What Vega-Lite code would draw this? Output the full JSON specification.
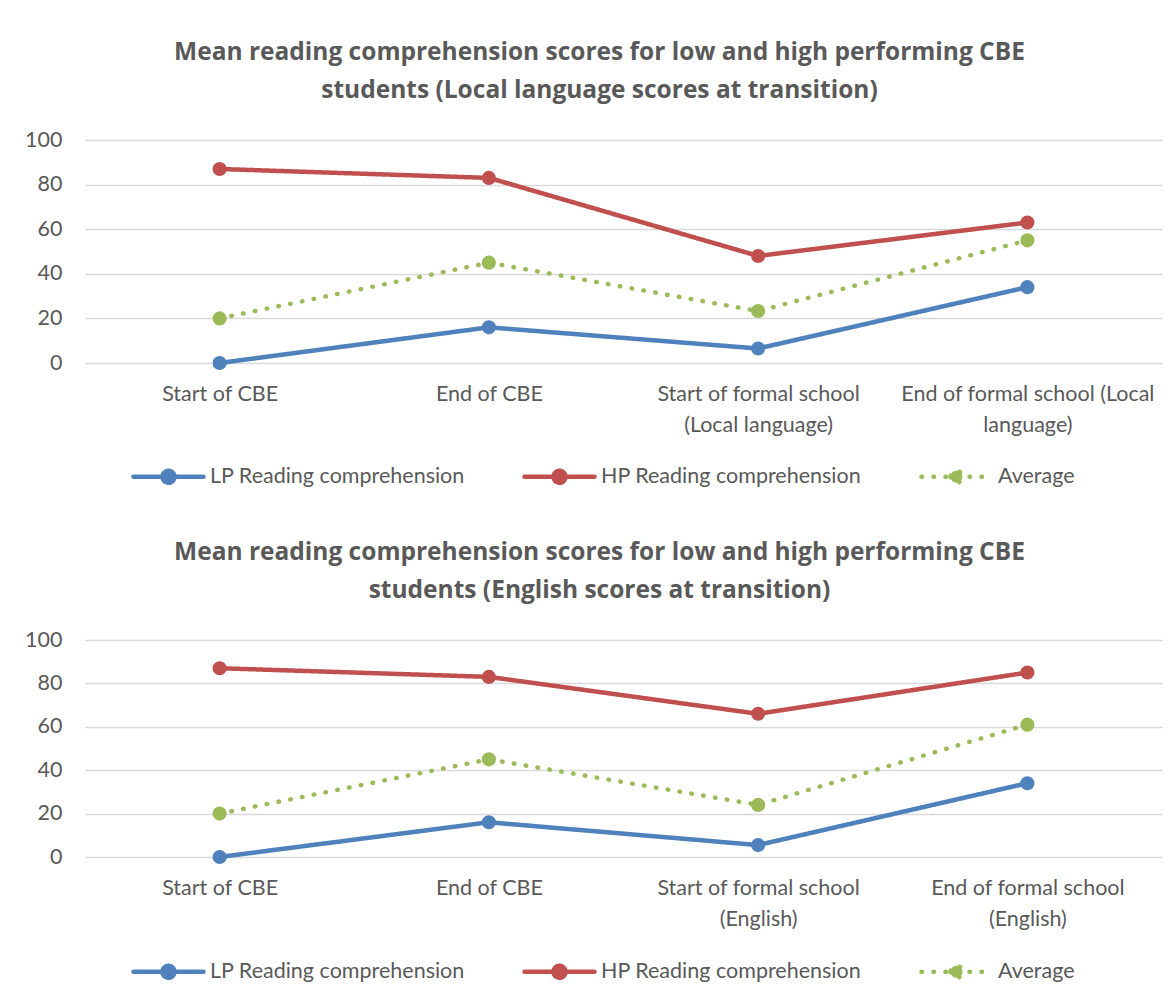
{
  "$schema": "https://vega.github.io/schema/vega-lite/v6.json",
  "background": "white",
  "padding": {"left": 24, "top": 39, "right": 5, "bottom": 5},
  "bounds": "flush",
  "spacing": 277,
  "config": {
    "font": "Lato",
    "view": {"stroke": null},
    "axis": {"labelColor": "#595959", "labelFontSize": 21.5, "labelFont": "Lato", "labelLimit": 500, "ticks": false, "domain": false, "title": null, "gridColor": "#d9d9d9", "gridWidth": 1.5},
    "title": {"font": "Open Sans", "fontSize": 24.5, "fontWeight": "bold", "color": "#595959", "lineHeight": 38, "anchor": "middle"},
    "legend": {"title": null, "direction": "horizontal", "labelFont": "Lato", "labelFontSize": 21.5, "labelLimit": 500, "labelColor": "#595959", "labelOffset": 4, "columnPadding": 50, "padding": 0, "symbolSize": 4900, "symbolStrokeWidth": 4.5, "symbolType": "M-1,0L1,0M-0.06,0a0.06,0.06 0 1,0 0.12,0a0.06,0.06 0 1,0 -0.12,0M-0.17,0a0.17,0.17 0 1,0 0.34,0a0.17,0.17 0 1,0 -0.34,0"}
  },
  "datasets": {
    "local": [
      {"stage": "Start of CBE", "series": "LP Reading comprehension", "value": 0},
      {"stage": "End of CBE", "series": "LP Reading comprehension", "value": 16},
      {"stage": "Start of formal school (Local language)", "series": "LP Reading comprehension", "value": 6.5},
      {"stage": "End of formal school (Local language)", "series": "LP Reading comprehension", "value": 34},
      {"stage": "Start of CBE", "series": "HP Reading comprehension", "value": 87},
      {"stage": "End of CBE", "series": "HP Reading comprehension", "value": 83},
      {"stage": "Start of formal school (Local language)", "series": "HP Reading comprehension", "value": 48},
      {"stage": "End of formal school (Local language)", "series": "HP Reading comprehension", "value": 63},
      {"stage": "Start of CBE", "series": "Average", "value": 20},
      {"stage": "End of CBE", "series": "Average", "value": 45},
      {"stage": "Start of formal school (Local language)", "series": "Average", "value": 23.3},
      {"stage": "End of formal school (Local language)", "series": "Average", "value": 55}
    ],
    "english": [
      {"stage": "Start of CBE", "series": "LP Reading comprehension", "value": 0},
      {"stage": "End of CBE", "series": "LP Reading comprehension", "value": 16},
      {"stage": "Start of formal school (English)", "series": "LP Reading comprehension", "value": 5.5},
      {"stage": "End of formal school (English)", "series": "LP Reading comprehension", "value": 34},
      {"stage": "Start of CBE", "series": "HP Reading comprehension", "value": 87},
      {"stage": "End of CBE", "series": "HP Reading comprehension", "value": 83},
      {"stage": "Start of formal school (English)", "series": "HP Reading comprehension", "value": 66},
      {"stage": "End of formal school (English)", "series": "HP Reading comprehension", "value": 85},
      {"stage": "Start of CBE", "series": "Average", "value": 20},
      {"stage": "End of CBE", "series": "Average", "value": 45},
      {"stage": "Start of formal school (English)", "series": "Average", "value": 24},
      {"stage": "End of formal school (English)", "series": "Average", "value": 61}
    ]
  },
  "resolve": {"scale": {"stroke": "independent", "fill": "independent", "strokeDash": "independent"}, "legend": {"stroke": "independent", "fill": "independent", "strokeDash": "independent"}},
  "vconcat": [
    {
      "width": 1077,
      "height": 223,
      "data": {"name": "local"},
      "title": {"text": ["Mean reading comprehension scores for low and high performing CBE", "students (Local language scores at transition)"], "offset": 26, "dx": -24},
      "encoding": {
        "x": {"field": "stage", "type": "nominal", "sort": null, "scale": {"type": "point", "padding": 0.5},
          "axis": {"labelAngle": 0, "grid": false, "labelPadding": 20, "labelLineHeight": 31, "labelBaseline": "top",
            "labelExpr": "datum.label == 'Start of formal school (Local language)' ? ['Start of formal school', '(Local language)'] : datum.label == 'End of formal school (Local language)' ? ['End of formal school (Local', 'language)'] : datum.label"}},
        "y": {"field": "value", "type": "quantitative", "scale": {"domain": [0, 100]}, "axis": {"values": [0, 20, 40, 60, 80, 100], "labelPadding": 23, "grid": true}}
      },
      "layer": [
        {
          "mark": {"type": "line", "strokeWidth": 4.5, "strokeCap": "round", "strokeJoin": "round"},
          "encoding": {
            "stroke": {"field": "series", "type": "nominal", "scale": {"domain": ["LP Reading comprehension", "HP Reading comprehension", "Average"], "range": ["#4f81bd", "#c0504d", "#9bbb59"]},
              "legend": {"orient": "none", "legendX": 46, "legendY": 299, "encode": {"symbols": {"update": {"strokeCap": {"value": "round"}}}}}},
            "strokeDash": {"field": "series", "type": "nominal", "scale": {"domain": ["LP Reading comprehension", "HP Reading comprehension", "Average"], "range": [[1, 0], [1, 0], [0.5, 11.5]]},
              "legend": {"orient": "none", "legendX": 46, "legendY": 299, "encode": {"symbols": {"update": {"strokeCap": {"value": "round"}}}}}}
          }
        },
        {
          "mark": {"type": "point", "filled": true, "size": 200, "opacity": 1},
          "encoding": {
            "fill": {"field": "series", "type": "nominal", "scale": {"domain": ["LP Reading comprehension", "HP Reading comprehension", "Average"], "range": ["#4f81bd", "#c0504d", "#9bbb59"]},
              "legend": {"orient": "none", "legendX": 46, "legendY": 299, "encode": {"symbols": {"update": {"strokeCap": {"value": "round"}}}}}}
          }
        }
      ]
    },
    {
      "width": 1077,
      "height": 217,
      "data": {"name": "english"},
      "title": {"text": ["Mean reading comprehension scores for low and high performing CBE", "students (English scores at transition)"], "offset": 26, "dx": -24},
      "encoding": {
        "x": {"field": "stage", "type": "nominal", "sort": null, "scale": {"type": "point", "padding": 0.5},
          "axis": {"labelAngle": 0, "grid": false, "labelPadding": 20, "labelLineHeight": 31, "labelBaseline": "top",
            "labelExpr": "datum.label == 'Start of formal school (English)' ? ['Start of formal school', '(English)'] : datum.label == 'End of formal school (English)' ? ['End of formal school', '(English)'] : datum.label"}},
        "y": {"field": "value", "type": "quantitative", "scale": {"domain": [0, 100]}, "axis": {"values": [0, 20, 40, 60, 80, 100], "labelPadding": 23, "grid": true}}
      },
      "layer": [
        {
          "mark": {"type": "line", "strokeWidth": 4.5, "strokeCap": "round", "strokeJoin": "round"},
          "encoding": {
            "stroke": {"field": "series", "type": "nominal", "scale": {"domain": ["LP Reading comprehension", "HP Reading comprehension", "Average"], "range": ["#4f81bd", "#c0504d", "#9bbb59"]},
              "legend": {"orient": "none", "legendX": 46, "legendY": 294, "encode": {"symbols": {"update": {"strokeCap": {"value": "round"}}}}}},
            "strokeDash": {"field": "series", "type": "nominal", "scale": {"domain": ["LP Reading comprehension", "HP Reading comprehension", "Average"], "range": [[1, 0], [1, 0], [0.5, 11.5]]},
              "legend": {"orient": "none", "legendX": 46, "legendY": 294, "encode": {"symbols": {"update": {"strokeCap": {"value": "round"}}}}}}
          }
        },
        {
          "mark": {"type": "point", "filled": true, "size": 200, "opacity": 1},
          "encoding": {
            "fill": {"field": "series", "type": "nominal", "scale": {"domain": ["LP Reading comprehension", "HP Reading comprehension", "Average"], "range": ["#4f81bd", "#c0504d", "#9bbb59"]},
              "legend": {"orient": "none", "legendX": 46, "legendY": 294, "encode": {"symbols": {"update": {"strokeCap": {"value": "round"}}}}}}
          }
        }
      ]
    }
  ]
}
